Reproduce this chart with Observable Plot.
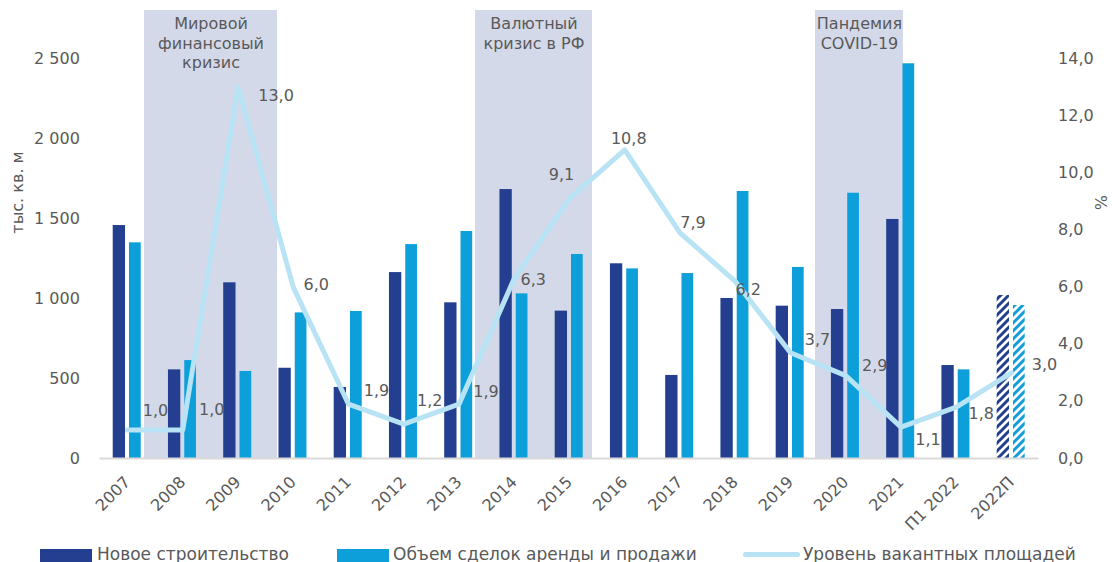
<!DOCTYPE html>
<html>
<head>
<meta charset="utf-8">
<script src="https://cdn.jsdelivr.net/npm/d3@7"></script>
<script src="https://cdn.jsdelivr.net/npm/@observablehq/plot@0.6"></script>
<style>
  html, body { margin: 0; padding: 0; background: #fff; width: 1120px; height: 562px; overflow: hidden; }
  #chart svg { display: block; }
  .leg { position: absolute; font-family: "DejaVu Sans", sans-serif; font-size: 17px; color: #595959; line-height: 20px; white-space: nowrap; }
  .sw { position: absolute; }
</style>
</head>
<body>
<div id="chart"></div>
<div id="legend"></div>
<script>
// ---- data ----
const categories = ["2007","2008","2009","2010","2011","2012","2013","2014","2015","2016","2017","2018","2019","2020","2021","П1 2022","2022П"];
const newConstruction = [1456, 554, 1098, 564, 444, 1162, 973, 1681, 921, 1217, 519, 1000, 952, 931, 1494, 581, 1019];
const dealsVolume     = [1348, 612, 544, 910, 919, 1337, 1419, 1029, 1275, 1185, 1156, 1669, 1194, 1658, 2467, 554, 956];
const vacancyRate     = [1.0, 1.0, 13.0, 6.0, 1.9, 1.2, 1.9, 6.3, 9.1, 10.8, 7.9, 6.2, 3.7, 2.9, 1.1, 1.8, 3.0];
const forecastCategories = ["2022П"];
const leftTicks  = [0, 500, 1000, 1500, 2000, 2500];
const rightTicks = [0, 2, 4, 6, 8, 10, 12, 14];
const periods = [
  {from: "2008", to: "2009", label: "Мировой\nфинансовый\nкризис"},
  {from: "2014", to: "2015", label: "Валютный\nкризис в РФ"},
  {from: "2020", to: "2021", label: "Пандемия\nCOVID-19"}
];
const legendItems = ["Новое строительство", "Объем сделок аренды и продажи", "Уровень вакантных площадей"];

// ---- layout / style (not data) ----
const C_DARK = "#243f8f", C_LIGHT = "#0d9fda", C_LINE = "#b8e3f4", C_SHADE = "#d4d9ea", C_TEXT = "#595959";
const FONT = "'DejaVu Sans', sans-serif";
const shadePad = [[-0.692, 0.715], [-0.701, 0.416], [-0.548, 0.045]];
const labelOffsets = [[28,-19],[29,-20],[38,9],[23,-2],[28,-13],[26,-23],[27,-12],[19,1],[-8,-24],[4,-11],[13,-10],[13,9],[27,-13],[29,-10],[27,13],[25,7],[33,-8]];
const yMax = 2800;
const ratio = 2500 / 14; // right axis (%) mapped onto left axis units

const idx = c => categories.indexOf(c);
const rows = categories.map((c, i) => ({
  i, c, nc: newConstruction[i], dv: dealsVolume[i], vr: vacancyRate[i],
  fc: forecastCategories.includes(c)
}));
const fmtLeft = d => d3.format(",")(d).replace(/,/g, " ");
const fmtPct = v => v.toFixed(1).replace(".", ",");

const shades = periods.map((p, k) => ({
  ...p, x1: idx(p.from) + shadePad[k][0], x2: idx(p.to) + shadePad[k][1]
}));

const barW = {d1: -0.259, d2: -0.036, l1: 0.036, l2: 0.248};

const chart = Plot.plot({
  width: 1120,
  height: 540,
  marginLeft: 99.4,
  marginRight: 81.4,
  marginTop: 10,
  marginBottom: 82,
  style: {fontFamily: FONT, fontSize: "16px", color: C_TEXT, background: "#fff"},
  x: {type: "linear", domain: [-0.5, categories.length - 0.5], axis: null},
  y: {domain: [0, yMax], axis: null},
  marks: [
    Plot.rect(shades, {x1: "x1", x2: "x2", fill: C_SHADE}),
    Plot.text(shades, {x: d => (d.x1 + d.x2) / 2, text: "label", frameAnchor: "top", lineAnchor: "top", dy: 5, lineHeight: 1.22, fill: C_TEXT, fontSize: 16}),
    Plot.rect(rows.filter(d => !d.fc), {x1: d => d.i + barW.d1, x2: d => d.i + barW.d2, y1: 0, y2: "nc", fill: C_DARK}),
    Plot.rect(rows.filter(d => !d.fc), {x1: d => d.i + barW.l1, x2: d => d.i + barW.l2, y1: 0, y2: "dv", fill: C_LIGHT}),
    Plot.rect(rows.filter(d => d.fc), {x1: d => d.i + barW.d1, x2: d => d.i + barW.d2, y1: 0, y2: "nc", fill: "url(#hatchDark)"}),
    Plot.rect(rows.filter(d => d.fc), {x1: d => d.i + barW.l1, x2: d => d.i + barW.l2, y1: 0, y2: "dv", fill: "url(#hatchLight)"}),
    Plot.ruleY([0], {stroke: "#d9d9d9", strokeWidth: 2}),
    Plot.line(rows, {x: "i", y: d => d.vr * ratio, stroke: C_LINE, strokeWidth: 5, strokeLinejoin: "round", strokeLinecap: "round"}),
    ...rows.map((d, k) => Plot.text([d], {x: "i", y: r => r.vr * ratio, text: r => fmtPct(r.vr), dx: labelOffsets[k][0], dy: labelOffsets[k][1], fill: C_TEXT, fontSize: 16})),
    Plot.text(rows, {x: "i", y: 0, text: "c", rotate: -45, textAnchor: "end", dx: 0, dy: 21, fill: C_TEXT, fontSize: 16}),
    Plot.axisY({anchor: "left", ticks: leftTicks, tickFormat: fmtLeft, tickSize: 0, tickPadding: 20, label: null, fontSize: 16}),
    Plot.axisY({anchor: "right", ticks: rightTicks.map(v => v * ratio), tickFormat: v => fmtPct(v / ratio), tickSize: 0, tickPadding: 19, label: null, fontSize: 16}),
    Plot.text(["тыс. кв. м"], {frameAnchor: "left", textAnchor: "middle", dx: -82, dy: -42, rotate: -90, fill: C_TEXT, fontSize: 16}),
    Plot.text(["%"], {frameAnchor: "right", textAnchor: "middle", dx: 61.5, dy: -32, rotate: 90, fill: C_TEXT, fontSize: 16})
  ]
});

// hatch patterns
const defs = d3.select(chart).insert("defs", ":first-child");
[["hatchDark", C_DARK], ["hatchLight", C_LIGHT]].forEach(([id, col]) => {
  const p = defs.append("pattern").attr("id", id).attr("patternUnits", "userSpaceOnUse")
    .attr("width", 8).attr("height", 8);
  p.append("rect").attr("width", 8).attr("height", 8).attr("fill", "#fff");
  p.append("path").attr("d", "M-2,2 l4,-4 M0,8 l8,-8 M6,10 l4,-4")
    .attr("stroke", col).attr("stroke-width", 3).attr("fill", "none");
});
document.getElementById("chart").appendChild(chart);

// legend (below the svg)
const leg = document.getElementById("legend");
const addSw = (x, y, w, h, col, rad) => {
  const s = document.createElement("div");
  s.className = "sw";
  Object.assign(s.style, {left: x + "px", top: y + "px", width: w + "px", height: h + "px", background: col, borderRadius: rad || "0"});
  leg.appendChild(s);
};
const addTxt = (x, t) => {
  const s = document.createElement("div");
  s.className = "leg"; s.textContent = t;
  Object.assign(s.style, {left: x + "px", top: "544px"});
  leg.appendChild(s);
};
addSw(40, 549, 52, 14, C_DARK);
addTxt(97, legendItems[0]);
addSw(337, 549, 52, 14, C_LIGHT);
addTxt(393, legendItems[1]);
addSw(743, 551.5, 57, 5.5, C_LINE, "3px");
addTxt(803, legendItems[2]);
</script>
</body>
</html>
